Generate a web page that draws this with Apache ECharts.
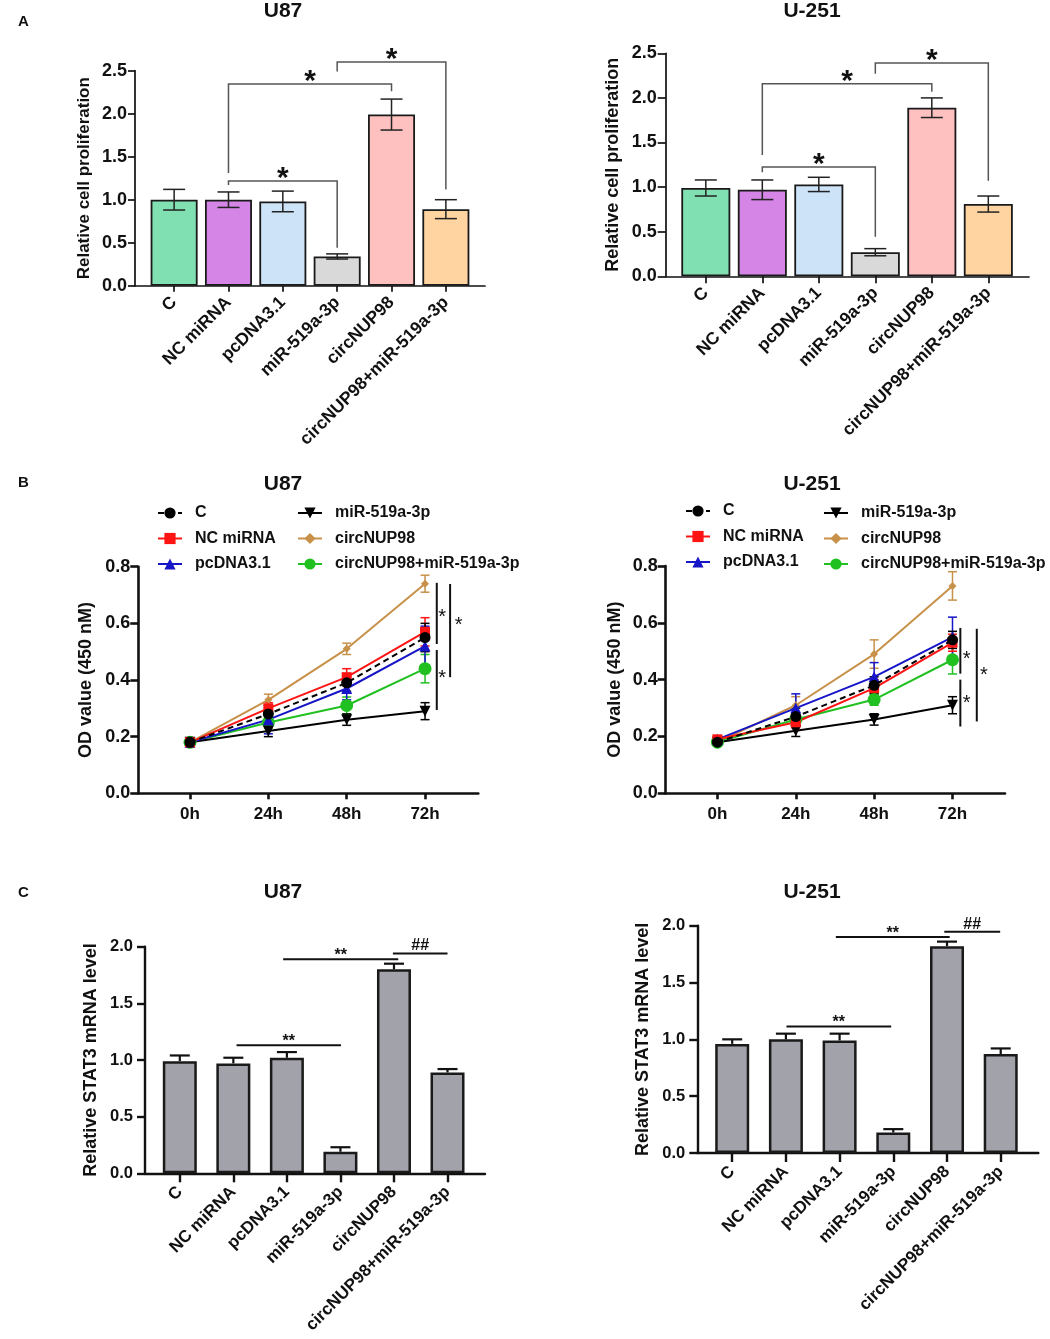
<!DOCTYPE html>
<html>
<head>
<meta charset="utf-8">
<title>circNUP98 / miR-519a-3p</title>
<script src="https://cdn.jsdelivr.net/npm/echarts@6/dist/echarts.min.js"></script>
<style>
html,body{margin:0;padding:0;background:#fff;}
#main{width:1050px;height:1339px;}
</style>
</head>
<body>
<div id="main"></div>
<script>
// ---------- data ----------
var groups = ['C', 'NC miRNA', 'pcDNA3.1', 'miR-519a-3p', 'circNUP98', 'circNUP98+miR-519a-3p'];
var hours = ['0h', '24h', '48h', '72h'];

// A - relative cell proliferation (mean / sd)
var profU87 = [1.00, 1.00, 0.98, 0.34, 1.99, 0.89];
var profU87Sd = [0.12, 0.09, 0.12, 0.03, 0.18, 0.11];
var profU251 = [0.99, 0.97, 1.03, 0.27, 1.89, 0.81];
var profU251Sd = [0.09, 0.11, 0.08, 0.04, 0.11, 0.09];

// B - OD value (450 nM), rows follow groups order
var odU87 = [
  [0.18, 0.28, 0.39, 0.55],
  [0.18, 0.30, 0.41, 0.57],
  [0.18, 0.26, 0.37, 0.52],
  [0.18, 0.22, 0.26, 0.29],
  [0.18, 0.33, 0.51, 0.74],
  [0.18, 0.25, 0.31, 0.44]
];
var odU87Sd = [
  [0.01, 0.02, 0.03, 0.05],
  [0.01, 0.02, 0.03, 0.05],
  [0.01, 0.05, 0.04, 0.07],
  [0.01, 0.02, 0.02, 0.03],
  [0.01, 0.02, 0.02, 0.03],
  [0.01, 0.02, 0.03, 0.05]
];
var odU251 = [
  [0.18, 0.27, 0.38, 0.54],
  [0.19, 0.25, 0.37, 0.53],
  [0.19, 0.30, 0.41, 0.55],
  [0.18, 0.22, 0.26, 0.31],
  [0.18, 0.31, 0.49, 0.73],
  [0.18, 0.26, 0.33, 0.47]
];
var odU251Sd = [
  [0.01, 0.03, 0.03, 0.03],
  [0.01, 0.02, 0.03, 0.03],
  [0.01, 0.05, 0.05, 0.07],
  [0.01, 0.02, 0.02, 0.03],
  [0.01, 0.03, 0.05, 0.05],
  [0.01, 0.02, 0.02, 0.05]
];

// C - relative STAT3 mRNA level
var stat3U87 = [0.99, 0.97, 1.02, 0.19, 1.80, 0.89];
var stat3U87Sd = [0.05, 0.05, 0.05, 0.04, 0.05, 0.03];
var stat3U251 = [0.96, 1.00, 0.99, 0.18, 1.82, 0.87];
var stat3U251Sd = [0.04, 0.05, 0.06, 0.03, 0.04, 0.05];

// significance marks: [fromGroup, toGroup, topY, leftLegEnd, rightLegEnd]
var sigAU87 = [[1, 3, 1.217, 1.17, 0.44], [1, 4, 2.345, 1.31, 2.26], [3, 5, 2.60, 2.49, 1.12]];
var sigAU251 = [[1, 3, 1.225, 1.166, 0.444], [1, 4, 2.16, 1.36, 2.07], [3, 5, 2.39, 2.27, 1.07]];
// [x, yFrom, yTo, starX, starY]
var sigBU87 = [[3.15, 0.743, 0.527, 3.22, 0.635], [3.15, 0.506, 0.294, 3.22, 0.42], [3.32, 0.739, 0.41, 3.43, 0.61]];
var sigBU251 = [[3.10, 0.582, 0.421, 3.18, 0.488], [3.10, 0.40, 0.235, 3.18, 0.332], [3.31, 0.579, 0.253, 3.40, 0.43]];
// [fromX, toX, y]
var sigCU87 = [[1.06, 3.01, 1.13], [1.93, 4.08, 1.89], [3.98, 5.00, 1.94]];
var sigCU251 = [[1.01, 2.96, 1.114], [1.93, 4.05, 1.90], [3.95, 4.99, 1.947]];
var sigCLabels = ['**', '**', '##'];

// ---------- styles ----------
var ink = '#111';
var fontFam = '"Liberation Sans", Arial, Helvetica, sans-serif';
var barColors = ['#80e0b2', '#d585e6', '#cde3f8', '#d9d9d9', '#ffc0c0', '#ffd4a0'];
var lineColors = ['#000000', '#ff1414', '#1616c8', '#000000', '#c8914a', '#20c020'];
var lineSymbols = ['circle', 'rect', 'triangle', 'triangle', 'diamond', 'circle'];
var symbolSizes = [11, 10, 11, 11, 8, 13];
var symbolRot = [0, 0, 0, 180, 0, 0];

var chart = echarts.init(document.getElementById('main'));

function xAxisOf(gi, min, max, names, o) {
  var ticks = names.map(function (n, i) { return i; });
  return {
    type: 'value', gridIndex: gi, min: min, max: max,
    splitLine: { show: false },
    axisLine: { onZero: false, lineStyle: { color: ink, width: o.lw } },
    axisTick: { show: true, customValues: ticks, length: o.tick, lineStyle: { color: ink, width: o.lw } },
    axisLabel: {
      customValues: ticks, rotate: o.rotate || 0, margin: o.margin,
      fontSize: o.fs, fontWeight: 'bold', color: ink, fontFamily: fontFam,
      formatter: function (v) { return names[Math.round(v)]; }
    }
  };
}

function yAxisOf(gi, max, step, name, o) {
  return {
    type: 'value', gridIndex: gi, min: 0, max: max, interval: step,
    name: name, nameLocation: 'middle', nameGap: o.gap,
    nameTextStyle: { fontSize: o.nfs, fontWeight: 'bold', color: ink, fontFamily: fontFam },
    splitLine: { show: false },
    axisLine: { show: true, onZero: false, lineStyle: { color: ink, width: o.lw } },
    axisTick: { show: true, length: o.tick, lineStyle: { color: ink, width: o.lw } },
    axisLabel: {
      margin: o.margin, fontSize: o.fs, fontWeight: 'bold', color: ink, fontFamily: fontFam,
      formatter: function (v) { return v.toFixed(1); }
    }
  };
}

function barsOf(gi, vals, width, colors, border) {
  return {
    type: 'bar', xAxisIndex: gi, yAxisIndex: gi, barWidth: width, silent: true,
    itemStyle: { borderColor: '#1a1a1a', borderWidth: border },
    data: vals.map(function (v, i) {
      return { value: [i, v], itemStyle: { color: colors ? colors[i] : '#a2a2aa' } };
    })
  };
}

function errBars(gi, xs, means, sds, o) {
  return {
    type: 'custom', xAxisIndex: gi, yAxisIndex: gi, silent: true, z: o.z || 4,
    data: means.map(function (m, i) { return [xs[i], m, sds[i]]; }),
    renderItem: function (params, api) {
      var x = api.value(0), m = api.value(1), s = api.value(2);
      var hi = api.coord([x, m + s]);
      var lo = api.coord([x, o.upOnly ? m : m - s]);
      var w = o.cap / 2;
      var st = { stroke: o.color, lineWidth: o.lw };
      var kids = [
        { type: 'line', shape: { x1: hi[0], y1: hi[1], x2: lo[0], y2: lo[1] }, style: st },
        { type: 'line', shape: { x1: hi[0] - w, y1: hi[1], x2: hi[0] + w, y2: hi[1] }, style: st }
      ];
      if (!o.upOnly) {
        kids.push({ type: 'line', shape: { x1: lo[0] - w, y1: lo[1], x2: lo[0] + w, y2: lo[1] }, style: st });
      }
      return { type: 'group', children: kids };
    }
  };
}

function bracketsA(gi, list) {
  return {
    type: 'custom', xAxisIndex: gi, yAxisIndex: gi, silent: true, z: 6,
    data: list,
    renderItem: function (params, api) {
      var x1 = api.value(0), x2 = api.value(1), y = api.value(2);
      var a = api.coord([x1, api.value(3)]), b = api.coord([x1, y]);
      var c = api.coord([x2, y]), d = api.coord([x2, api.value(4)]);
      return { type: 'group', children: [
        { type: 'polyline', shape: { points: [a, b, c, d] }, style: { stroke: '#555', lineWidth: 1.5, fill: 'none' } },
        { type: 'text', x: (b[0] + c[0]) / 2, y: b[1] - 2,
          style: { text: '*', font: 'bold 30px ' + fontFam, fill: ink, align: 'center', verticalAlign: 'middle' } }
      ] };
    }
  };
}

function sigLinesB(gi, list) {
  return {
    type: 'custom', xAxisIndex: gi, yAxisIndex: gi, silent: true, z: 6,
    data: list,
    renderItem: function (params, api) {
      var a = api.coord([api.value(0), api.value(1)]);
      var b = api.coord([api.value(0), api.value(2)]);
      var s = api.coord([api.value(3), api.value(4)]);
      return { type: 'group', children: [
        { type: 'line', shape: { x1: a[0], y1: a[1], x2: b[0], y2: b[1] }, style: { stroke: ink, lineWidth: 2 } },
        { type: 'text', x: s[0], y: s[1] + 4.5,
          style: { text: '*', font: '20px ' + fontFam, fill: ink, align: 'center', verticalAlign: 'middle' } }
      ] };
    }
  };
}

function sigLinesC(gi, list) {
  return {
    type: 'custom', xAxisIndex: gi, yAxisIndex: gi, silent: true, z: 6,
    data: list,
    renderItem: function (params, api) {
      var a = api.coord([api.value(0), api.value(2)]);
      var b = api.coord([api.value(1), api.value(2)]);
      var lab = sigCLabels[params.dataIndex];
      var dy = lab === '##' ? -7.5 : -3.5;
      return { type: 'group', children: [
        { type: 'line', shape: { x1: a[0], y1: a[1], x2: b[0], y2: b[1] }, style: { stroke: ink, lineWidth: 2 } },
        { type: 'text', x: (a[0] + b[0]) / 2, y: a[1] + dy,
          style: { text: lab, font: 'bold 16px ' + fontFam, fill: ink, align: 'center', verticalAlign: 'middle' } }
      ] };
    }
  };
}

function odSeries(gi, table, sds) {
  var out = [];
  var order = [4, 5, 3, 2, 1, 0];
  order.forEach(function (k) {
    var xs = hours.map(function (h, i) { return i; });
    out.push(errBars(gi, xs, table[k], sds[k], { color: lineColors[k], lw: 1.5, cap: 9, z: 1 }));
  });
  order.forEach(function (k) {
    out.push({
      type: 'line', name: groups[k], xAxisIndex: gi, yAxisIndex: gi,
      data: table[k].map(function (v, i) { return [i, v]; }),
      symbol: lineSymbols[k], symbolSize: symbolSizes[k], symbolRotate: symbolRot[k],
      lineStyle: { color: lineColors[k], width: 2, type: k === 0 ? [6, 4] : 'solid' },
      itemStyle: { color: lineColors[k] },
      z: 3 + (k === 0 ? 1 : 0)
    });
  });
  return out;
}

function legendOf(names, left, top) {
  return {
    orient: 'vertical', left: left, top: top, data: names, padding: 0,
    itemWidth: 24, itemHeight: 14, itemGap: 9.5, selectedMode: false,
    textStyle: { fontSize: 16, fontWeight: 'bold', color: ink, fontFamily: fontFam, padding: [0, 0, 0, 8] }
  };
}

function titleText(t, x, y) {
  return { type: 'text', x: x, y: y, style: { text: t, font: 'bold 21px ' + fontFam, fill: ink, align: 'center', verticalAlign: 'middle' } };
}
function letterText(t, x, y) {
  return { type: 'text', x: x, y: y, style: { text: t, font: 'bold 15px ' + fontFam, fill: ink, align: 'left', verticalAlign: 'middle' } };
}

var idx6 = groups.map(function (g, i) { return i; });

var series = [
  barsOf(0, profU87, 47, barColors, 1.8),
  errBars(0, idx6, profU87, profU87Sd, { color: '#222', lw: 1.5, cap: 22 }),
  bracketsA(0, sigAU87),
  barsOf(1, profU251, 49, barColors, 1.8),
  errBars(1, idx6, profU251, profU251Sd, { color: '#222', lw: 1.5, cap: 22 }),
  bracketsA(1, sigAU251)
]
  .concat(odSeries(2, odU87, odU87Sd))
  .concat([sigLinesB(2, sigBU87)])
  .concat(odSeries(3, odU251, odU251Sd))
  .concat([sigLinesB(3, sigBU251)])
  .concat([
    barsOf(4, stat3U87, 34, null, 2.5),
    errBars(4, idx6, stat3U87, stat3U87Sd, { color: ink, lw: 2.2, cap: 20, upOnly: true }),
    sigLinesC(4, sigCU87),
    barsOf(5, stat3U251, 34, null, 2.5),
    errBars(5, idx6, stat3U251, stat3U251Sd, { color: ink, lw: 2.2, cap: 20, upOnly: true }),
    sigLinesC(5, sigCU251)
  ]);

var option = {
  animation: false,
  backgroundColor: '#fff',
  textStyle: { fontFamily: fontFam },
  grid: [
    { left: 135, top: 70.7, width: 350, height: 215 },
    { left: 665.7, top: 53.3, width: 363.3, height: 223 },
    { left: 138.3, top: 566.7, width: 340, height: 226.6 },
    { left: 665.7, top: 566, width: 339.3, height: 227.3 },
    { left: 145, top: 946.7, width: 340, height: 226.6 },
    { left: 697.3, top: 925.7, width: 341, height: 227.3 }
  ],
  xAxis: [
    xAxisOf(0, -0.72, 5.72, groups, { lw: 1.7, tick: 6, rotate: 45, margin: 14, fs: 17.5 }),
    xAxisOf(1, -0.71, 5.72, groups, { lw: 1.7, tick: 7, rotate: 45, margin: 14, fs: 17.5 }),
    xAxisOf(2, -0.66, 3.68, hours, { lw: 2.6, tick: 6, margin: 13, fs: 17 }),
    xAxisOf(3, -0.66, 3.67, hours, { lw: 2.6, tick: 6, margin: 13, fs: 17 }),
    xAxisOf(4, -0.65, 5.70, groups, { lw: 2.4, tick: 9, rotate: 45, margin: 16, fs: 17 }),
    xAxisOf(5, -0.65, 5.70, groups, { lw: 2.4, tick: 9, rotate: 45, margin: 16, fs: 17 })
  ],
  yAxis: [
    yAxisOf(0, 2.5, 0.5, 'Relative cell proliferation', { lw: 1.7, tick: 7, margin: 8, fs: 18, gap: 42, nfs: 17 }),
    yAxisOf(1, 2.5, 0.5, 'Relative cell proliferation', { lw: 1.7, tick: 8, margin: 9, fs: 18, gap: 44, nfs: 18 }),
    yAxisOf(2, 0.8, 0.2, 'OD value (450 nM)', { lw: 2.6, tick: 8, margin: 8, fs: 18, gap: 43, nfs: 18 }),
    yAxisOf(3, 0.8, 0.2, 'OD value (450 nM)', { lw: 2.6, tick: 8, margin: 8, fs: 18, gap: 42, nfs: 18 }),
    yAxisOf(4, 2.0, 0.5, 'Relative STAT3 mRNA level', { lw: 2.4, tick: 8, margin: 12, fs: 16.5, gap: 45, nfs: 18 }),
    yAxisOf(5, 2.0, 0.5, 'Relative STAT3 mRNA level', { lw: 2.4, tick: 8, margin: 12, fs: 16.5, gap: 45, nfs: 18 })
  ],
  legend: [
    legendOf(['C', 'NC miRNA', 'pcDNA3.1'], 157, 505),
    legendOf(['miR-519a-3p', 'circNUP98', 'circNUP98+miR-519a-3p'], 297, 505),
    legendOf(['C', 'NC miRNA', 'pcDNA3.1'], 685, 503),
    legendOf(['miR-519a-3p', 'circNUP98', 'circNUP98+miR-519a-3p'], 823, 505)
  ],
  graphic: [
    letterText('A', 18, 22), titleText('U87', 283, 11), titleText('U-251', 812, 11),
    letterText('B', 18, 483), titleText('U87', 283, 484), titleText('U-251', 812, 484),
    letterText('C', 18, 893), titleText('U87', 283, 892), titleText('U-251', 812, 892)
  ],
  series: series
};

chart.setOption(option);
</script>
</body>
</html>
